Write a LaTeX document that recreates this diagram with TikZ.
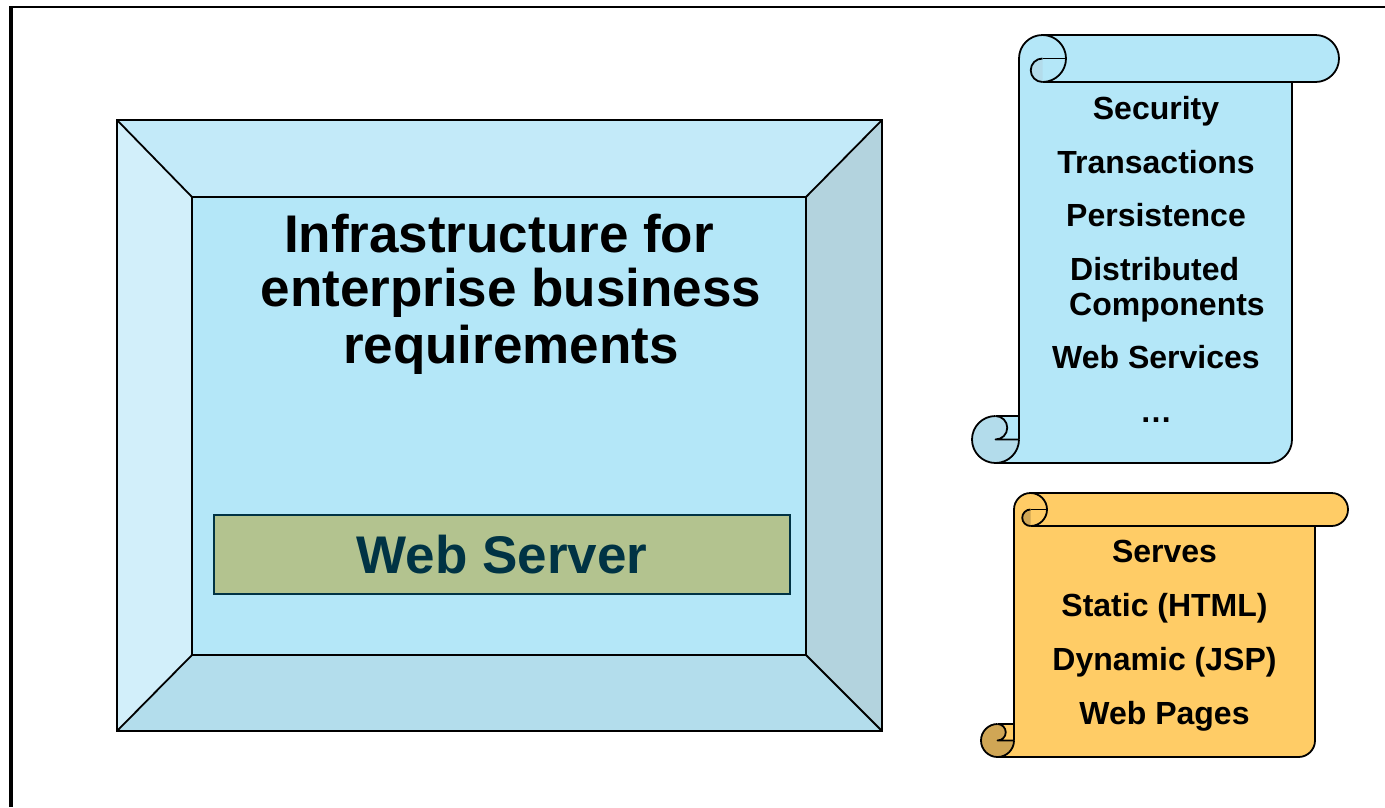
\documentclass[tikz,border=0pt]{standalone}
\usepackage{fontspec}
\setmainfont{Liberation Sans}
\definecolor{bvcenter}{RGB}{180,231,248}
\definecolor{bvtop}{RGB}{195,234,249}
\definecolor{bvleft}{RGB}{210,239,250}
\definecolor{bvright}{RGB}{179,211,222}
\definecolor{bvbottom}{RGB}{179,221,236}
\definecolor{scblue}{RGB}{180,231,248}
\definecolor{scbluedark}{RGB}{179,220,235}
\definecolor{scorange}{RGB}{255,204,102}
\definecolor{scorangedark}{RGB}{208,166,85}
\definecolor{wsfill}{RGB}{179,195,143}
\definecolor{wsdark}{RGB}{0,51,68}
\newcommand\drawscroll[7]{%
 \pgfmathsetmacro\scrL{#1}\pgfmathsetmacro\scrT{#2}\pgfmathsetmacro\scrR{#3}\pgfmathsetmacro\scrB{#4}%
 \pgfmathsetmacro\scrH{#5/2}\pgfmathsetmacro\scrQ{#5/4}%
 \pgfmathsetmacro\scrBL{#1+#5}\pgfmathsetmacro\scrLH{#1+#5/2}%
 \pgfmathsetmacro\scrXa{#1+1.5*#5}\pgfmathsetmacro\scrXb{#1+2*#5}%
 \pgfmathsetmacro\scrXc{#3-#5}\pgfmathsetmacro\scrXd{#3-#5/2}%
 \pgfmathsetmacro\scrYa{#4-#5}\pgfmathsetmacro\scrYb{#4-#5/2}%
 \pgfmathsetmacro\scrTH{#2+#5/2}\pgfmathsetmacro\scrTC{#2+#5}%
 \fill[#6] (\scrLH,\scrYa) -- (\scrBL,\scrYa) -- (\scrBL,\scrTH) -- (\scrXc,\scrTH) -- (\scrXc,\scrYb) arc[start angle=0,end angle=90,radius=\scrH] -- (\scrLH,\scrB) -- cycle;
 \fill[#7] (\scrLH,\scrYb) circle[radius=\scrH];
 \fill[#6] (\scrLH,\scrYa) rectangle (\scrBL,\scrYb);
 \fill[#7] (\scrLH,\scrYa) arc[start angle=-90,end angle=90,radius=\scrQ] -- cycle;
 \fill[#6] (\scrBL,\scrTH) arc[start angle=180,end angle=270,radius=\scrH] -- (\scrXd,\scrT) arc[start angle=-90,end angle=90,radius=\scrH] -- (\scrBL,\scrTC) -- cycle;
 \fill[#7] (\scrXa,\scrTH) arc[start angle=270,end angle=90,radius=\scrQ] -- cycle;
 \draw[scrollline] (\scrBL,\scrYb) -- (\scrBL,\scrTH) arc[start angle=180,end angle=270,radius=\scrH] -- (\scrXd,\scrT) arc[start angle=-90,end angle=90,radius=\scrH] -- (\scrXa,\scrTC);
 \draw[scrollline] (\scrXa,\scrT) arc[start angle=-90,end angle=90,radius=\scrH];
 \draw[scrollline] (\scrXa,\scrTH) arc[start angle=270,end angle=90,radius=\scrQ];
 \draw[scrollline] (\scrXa,\scrTH) -- (\scrXb,\scrTH);
 \draw[scrollline] (\scrXc,\scrTC) -- (\scrXc,\scrYb) arc[start angle=0,end angle=90,radius=\scrH] -- (\scrLH,\scrB);
 \draw[scrollline] (\scrLH,\scrYa) arc[start angle=270,end angle=0,radius=\scrH];
 \draw[scrollline] (\scrLH,\scrYa) arc[start angle=-90,end angle=90,radius=\scrQ] -- (\scrBL,\scrYb);
 \draw[scrollline] (\scrLH,\scrYa) -- (\scrBL,\scrYa);
}
\begin{document}
\begin{tikzpicture}[x=1pt,y=-1pt,
  scrollline/.style={draw=black,line width=1.8pt,line join=round},
  bevelline/.style={draw=black,line width=1.8pt,line join=miter},
  title/.style={font=\fontsize{53}{57}\selectfont\bfseries,inner sep=0pt,anchor=base},
  item/.style={font=\fontsize{32}{36}\selectfont\bfseries,inner sep=0pt,anchor=base},
  itemleft/.style={item,anchor=base west}]
\path[use as bounding box] (0,0) rectangle (1385,807);
\fill[white] (0,0) rectangle (1385,807);
% frame
\draw[line width=2.3pt] (9.5,7.3) -- (1385,7.3);
\draw[line width=3.5pt] (11,6) -- (11,807);
% bevel box
\fill[bvtop] (117,120) -- (882,120) -- (806,197) -- (192,197) -- cycle;
\fill[bvleft] (117,120) -- (192,197) -- (192,655) -- (117,731) -- cycle;
\fill[bvright] (882,120) -- (882,731) -- (806,655) -- (806,197) -- cycle;
\fill[bvbottom] (117,731) -- (192,655) -- (806,655) -- (882,731) -- cycle;
\fill[bvcenter] (192,197) rectangle (806,655);
\draw[bevelline] (117,120) rectangle (882,731);
\draw[bevelline] (192,197) rectangle (806,655);
\draw[bevelline] (117,120) -- (192,197);
\draw[bevelline] (882,120) -- (806,197);
\draw[bevelline] (117,731) -- (192,655);
\draw[bevelline] (882,731) -- (806,655);
\node[title] (t1) at (499,252) {Infrastructure for};
\node[title] (t2) at (511,306) {enterprise business};
\node[title] (t3) at (511,363) {requirements};
\node[draw=wsdark,fill=wsfill,line width=2pt,minimum width=576pt,minimum height=79pt,inner sep=0pt,
  text=wsdark,font=\fontsize{53}{57}\selectfont\bfseries] (ws) at (502,554.5) {Web Server};
% scrolls
\drawscroll{972}{35}{1339}{463}{47}{scblue}{scbluedark}
\drawscroll{981}{493}{1348}{757}{33}{scorange}{scorangedark}
\node[item] (s1) at (1156,119) {Security};
\node[item] (s2) at (1156,173) {Transactions};
\node[item] (s3) at (1156,226) {Persistence};
\node[itemleft] (s4) at (1070,280) {Distributed};
\node[itemleft] (s5) at (1069,315) {Components};
\node[item] (s6) at (1156,368) {Web Services};
\node[item] (s7) at (1156,422) {…};
\node[item] (o1) at (1164.5,562) {Serves};
\node[item] (o2) at (1164.5,616) {Static (HTML)};
\node[item] (o3) at (1164.5,670) {Dynamic (JSP)};
\node[item] (o4) at (1164.5,724) {Web Pages};
\end{tikzpicture}
\end{document}
